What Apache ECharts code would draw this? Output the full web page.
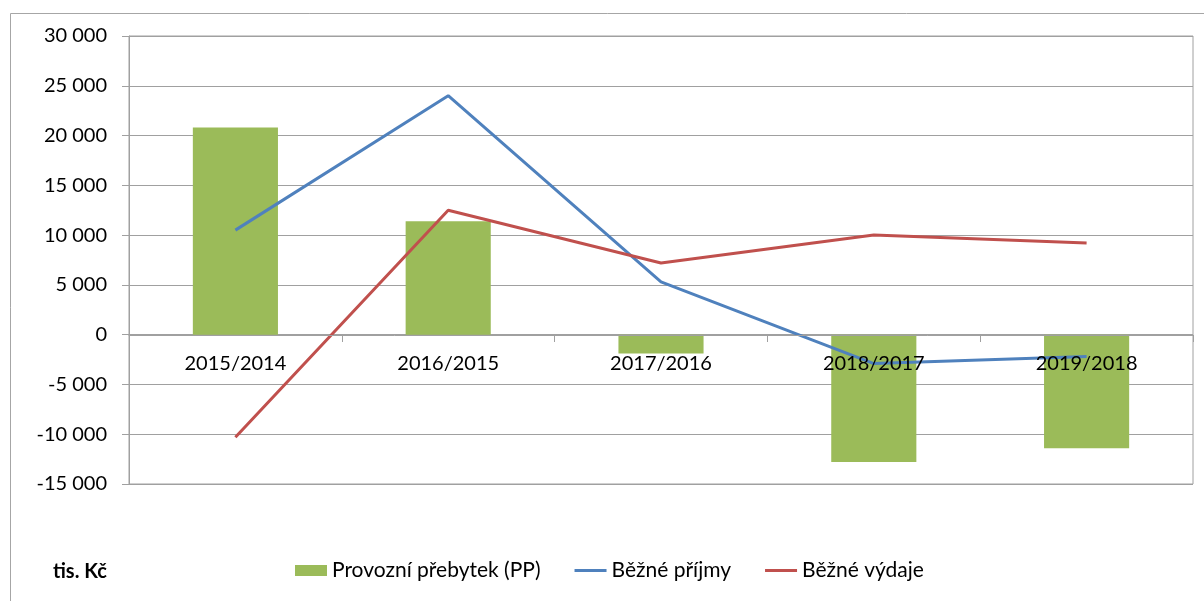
<!DOCTYPE html>
<html>
<head>
<meta charset="utf-8">
<script src="https://cdn.jsdelivr.net/npm/echarts@6/dist/echarts.min.js"></script>
<style>
    html, body { margin: 0; padding: 0; background: #fff; }
    #chart { width: 1204px; height: 601px; }
</style>
</head>
<body>
<div id="chart"></div>
<script>
// Data
var categories = ['2015/2014', '2016/2015', '2017/2016', '2018/2017', '2019/2018'];
var surplus = [20800, 11400, -1900, -12800, -11400];   // Provozní přebytek (PP)
var income = [10500, 24000, 5300, -2900, -2200];       // Běžné příjmy
var expenses = [-10300, 12500, 7200, 10000, 9200];     // Běžné výdaje

var fontName = 'Lato, "Open Sans", sans-serif';

// thin line icon for the legend (extra moveTo points keep the 32x11 box)
var lineIcon = 'path://M0,0L0,0M0,4L32,4L32,7L0,7ZM32,11L32,11';

function thousands(v) {
    var s = Math.abs(v).toString().replace(/\B(?=(\d{3})+(?!\d))/g, ' ');
    return (v < 0 ? '-' : '') + s;
}

var chart = echarts.init(document.getElementById('chart'));

chart.setOption({

    animation: false,

    // Global text styles
    textStyle: {
        fontFamily: fontName,
        color: '#000'
    },

    // Outer frame and unit label
    graphic: [
        {
            type: 'rect',
            shape: { x: 10.5, y: 13.5, width: 1210, height: 620 },
            style: { fill: 'none', stroke: '#a6a6a6', lineWidth: 1 },
            silent: true
        },
        {
            type: 'text',
            left: 53,
            top: 562,
            style: {
                text: 'tis. Kč',
                font: 'bold 20px ' + fontName,
                fill: '#000'
            }
        }
    ],

    // Setup grid
    grid: {
        left: 129,
        top: 36,
        width: 1064,
        height: 448,
        show: true,
        borderColor: '#a0a0a0',
        borderWidth: 1
    },

    // Add legend
    legend: {
        left: 290,
        top: 555,
        itemWidth: 32,
        itemHeight: 11,
        itemGap: 34,
        textStyle: {
            fontFamily: fontName,
            fontSize: 21,
            color: '#000'
        },
        data: [
            { name: 'Provozní přebytek (PP)', icon: 'rect' },
            { name: 'Běžné příjmy', icon: lineIcon },
            { name: 'Běžné výdaje', icon: lineIcon }
        ]
    },

    // Horizontal axis, shifted up onto the zero line
    xAxis: [{
        type: 'category',
        data: categories,
        z: 10,
        offset: -149,
        axisLine: {
            onZero: false,
            lineStyle: { color: '#a0a0a0', width: 1 }
        },
        axisTick: {
            show: true,
            length: 7,
            lineStyle: { color: '#a0a0a0' }
        },
        axisLabel: {
            fontSize: 20,
            margin: 19,
            color: '#000'
        },
        splitLine: { show: false }
    }],

    // Vertical axis
    yAxis: [{
        type: 'value',
        min: -15000,
        max: 30000,
        interval: 5000,
        axisLine: {
            show: true,
            lineStyle: { color: '#a0a0a0', width: 1 }
        },
        axisTick: {
            show: true,
            length: 7,
            lineStyle: { color: '#a0a0a0' }
        },
        axisLabel: {
            fontSize: 20,
            margin: 22,
            color: '#000',
            formatter: thousands
        },
        splitLine: {
            show: true,
            lineStyle: { color: '#a0a0a0', width: 1 }
        }
    }],

    // Add series
    series: [
        {
            name: 'Provozní přebytek (PP)',
            type: 'bar',
            barWidth: '40%',
            itemStyle: { color: '#9bbb59' },
            data: surplus
        },
        {
            name: 'Běžné příjmy',
            type: 'line',
            symbol: 'none',
            lineStyle: { color: '#4f81bd', width: 3 },
            itemStyle: { color: '#4f81bd' },
            data: income
        },
        {
            name: 'Běžné výdaje',
            type: 'line',
            symbol: 'none',
            lineStyle: { color: '#c0504d', width: 3 },
            itemStyle: { color: '#c0504d' },
            data: expenses
        }
    ]
});
</script>
</body>
</html>
